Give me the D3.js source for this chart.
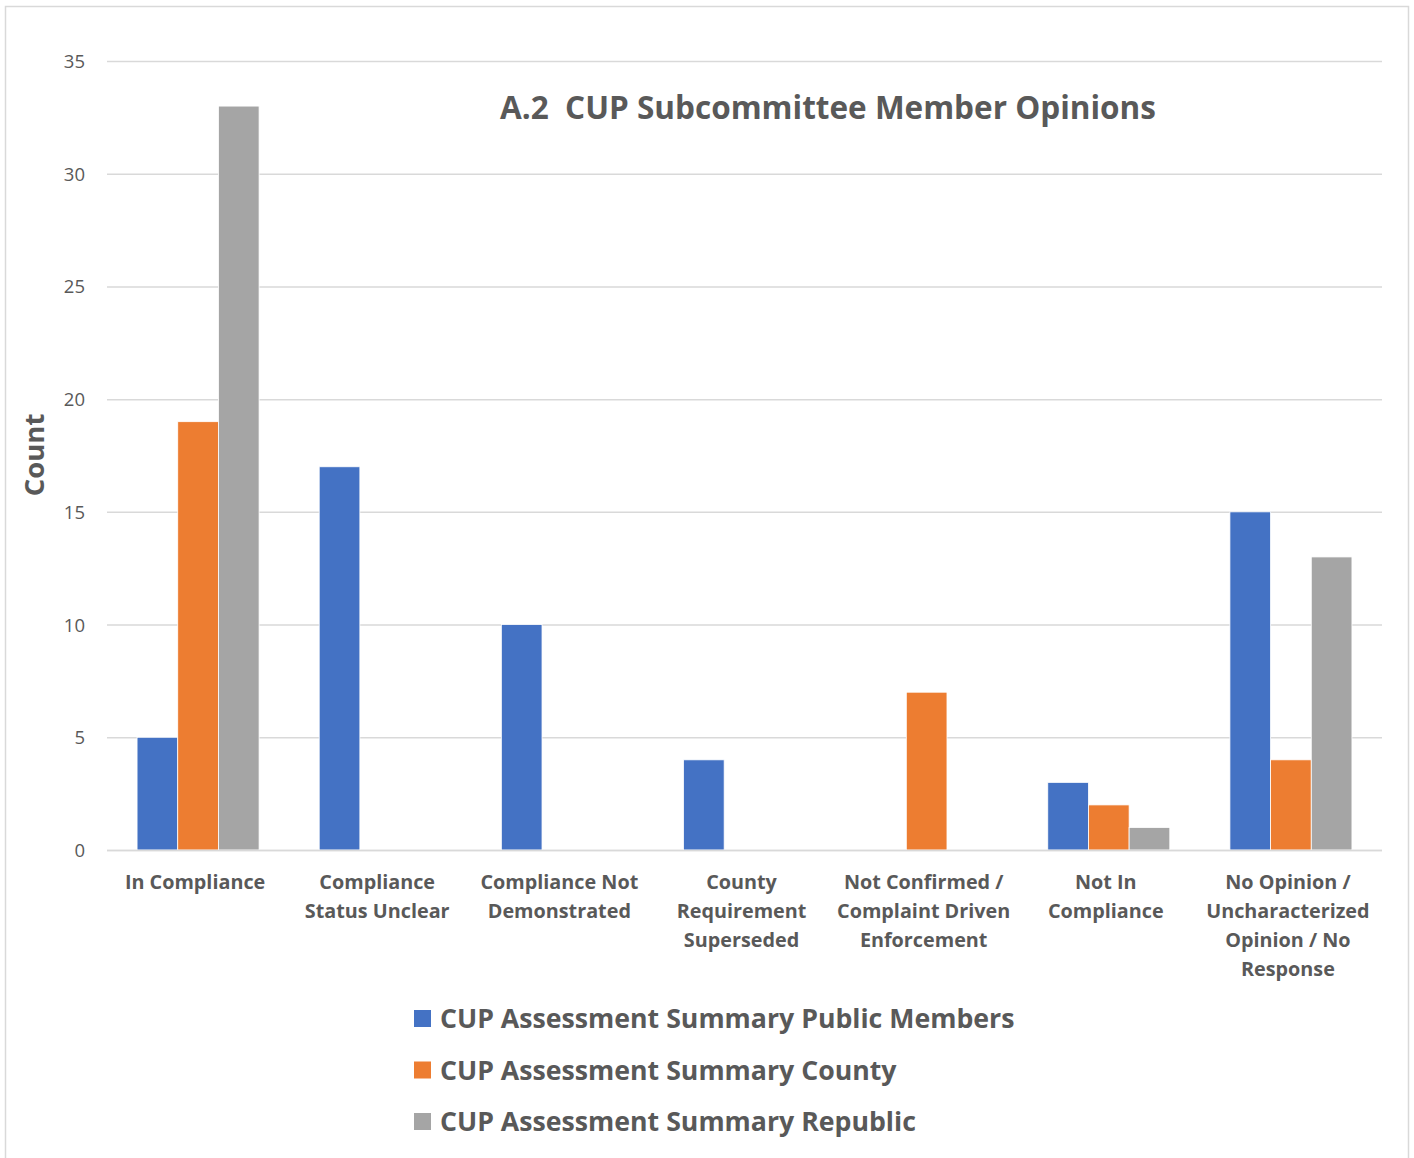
<!DOCTYPE html>
<html><head><meta charset="utf-8">
<script src="https://cdn.jsdelivr.net/npm/d3@7"></script>
<style>body{margin:0;background:#fff;}svg{display:block;}text{white-space:pre;}</style>
</head><body>
<script>
const categories = [
  ["In Compliance"],
  ["Compliance", "Status Unclear"],
  ["Compliance Not", "Demonstrated"],
  ["County", "Requirement", "Superseded"],
  ["Not Confirmed /", "Complaint Driven", "Enforcement"],
  ["Not In", "Compliance"],
  ["No Opinion /", "Uncharacterized", "Opinion / No", "Response"]
];
const seriesNames = ["CUP Assessment Summary Public Members", "CUP Assessment Summary County", "CUP Assessment Summary Republic"];
const publicMembers = [5, 17, 10, 4, 0, 3, 15];
const county = [19, 0, 0, 0, 7, 2, 4];
const republic = [33, 0, 0, 0, 0, 1, 13];
const yTicks = [0, 5, 10, 15, 20, 25, 30, 35];
const colors = ["#4472C4", "#ED7D31", "#A5A5A5"];
const title = "A.2  CUP Subcommittee Member Opinions";
const yLabel = "Count";

(function () {
const W = 1414, H = 1158;
const font = "'Open Sans', sans-serif";
const textColor = "#595959";
const svg = d3.select("body").append("svg").attr("width", W).attr("height", H);

svg.append("rect").attr("x", 5.5).attr("y", 6.5).attr("width", 1403).attr("height", 1160)
  .attr("fill", "#fff").attr("stroke", "#d9d9d9").attr("stroke-width", 1.5);

const pLeft = 107, pRight = 1382, pTop = 61, pBottom = 850;
const y = d3.scaleLinear().domain([0, 35]).range([pBottom, pTop]);
const x0 = d3.scaleBand().domain(d3.range(categories.length)).range([pLeft, pRight]).paddingInner(0.33).paddingOuter(0.165);
const x1 = d3.scaleBand().domain([0, 1, 2]).range([0, x0.bandwidth()]);

svg.append("g").selectAll("line").data(yTicks).join("line")
  .attr("x1", pLeft).attr("x2", pRight)
  .attr("y1", d => y(d) + 0.5).attr("y2", d => y(d) + 0.5)
  .attr("stroke", "#d9d9d9").attr("stroke-width", 1.5);

const yAxis = d3.axisLeft(y).tickValues(yTicks).tickSize(0).tickPadding(0);
const ya = svg.append("g").attr("transform", "translate(85,0)").call(yAxis);
ya.select(".domain").remove();
ya.selectAll("text").attr("font-family", font).attr("font-size", 18.5).attr("fill", textColor).attr("dy", "0.35em");

const series = [publicMembers, county, republic];
series.forEach((vals, si) => {
  svg.append("g").selectAll("rect").data(vals.map((v, i) => ({v, i})).filter(d => d.v > 0)).join("rect")
    .attr("x", d => x0(d.i) + x1(si))
    .attr("y", d => y(d.v))
    .attr("width", x1.bandwidth())
    .attr("height", d => y(0) - y(d.v))
    .attr("fill", colors[si])
    .attr("stroke", "#fff").attr("stroke-width", 0.8);
});

svg.append("line").attr("x1", pLeft).attr("x2", pRight).attr("y1", pBottom + 0.5).attr("y2", pBottom + 0.5)
  .attr("stroke", "#d9d9d9").attr("stroke-width", 1.5);

const cl = svg.append("g");
categories.forEach((lines, i) => {
  const cx = x0(i) + x0.bandwidth() / 2 - 3;
  const t = cl.append("text").attr("x", cx).attr("y", 889)
    .attr("text-anchor", "middle").attr("font-family", font).attr("font-weight", "bold")
    .attr("font-size", 19.8).attr("fill", textColor);
  lines.forEach((l, j) => t.append("tspan").attr("x", cx).attr("dy", j === 0 ? 0 : 29).text(l));
});

svg.append("text").attr("transform", "translate(44,455) rotate(-90)").attr("text-anchor", "middle")
  .attr("font-family", font).attr("font-weight", "bold").attr("font-size", 27.5).attr("fill", textColor).text(yLabel);

svg.append("text").attr("x", 828).attr("y", 119).attr("text-anchor", "middle")
  .attr("font-family", font).attr("font-weight", "bold").attr("font-size", 31.5).attr("fill", textColor).text(title);

const lg = svg.append("g");
seriesNames.forEach((n, i) => {
  const cy = 1019 + i * 51.5;
  lg.append("rect").attr("x", 414).attr("y", cy - 9).attr("width", 17).attr("height", 17).attr("fill", colors[i]);
  lg.append("text").attr("x", 440).attr("y", cy).attr("dy", "0.35em")
    .attr("font-family", font).attr("font-weight", "bold").attr("font-size", 26.7).attr("fill", textColor).text(n);
});
})();
</script>
</body></html>
